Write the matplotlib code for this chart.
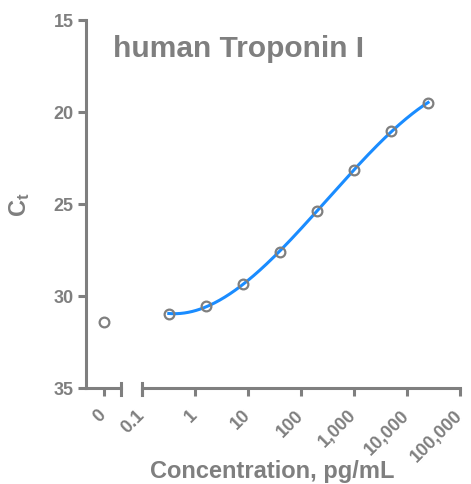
import numpy as np
import matplotlib.pyplot as plt
from matplotlib.lines import Line2D

plt.rcParams['font.family'] = ['Liberation Sans', 'DejaVu Sans']
plt.rcParams['mathtext.fontset'] = 'custom'
plt.rcParams['mathtext.rm'] = 'Liberation Sans:bold'
plt.rcParams['mathtext.bf'] = 'Liberation Sans:bold'

# data
conc = [0.32, 1.6, 8, 40, 200, 1000, 5000, 25000]
ct = [30.98, 30.54, 29.35, 27.62, 25.38, 23.15, 21.03, 19.51]
zero_ct = 31.4
xticks = [0.1, 1, 10, 100, 1000, 10000, 100000]
xticklabels = ['0.1', '1', '10', '100', '1,000', '10,000', '100,000']
yticks = [15, 20, 25, 30, 35]

gray = '#7f7f7f'
blue = '#1a8cff'
lw = 2.2

W, H = 471, 484
fig = plt.figure(figsize=(W / 100, H / 100), dpi=100)

bottom = 1 - 388 / H
height = (388 - 20) / H
ax0 = fig.add_axes([86 / W, bottom, (121 - 86) / W, height])
ax1 = fig.add_axes([142 / W, bottom, (460 - 142) / W, height])

for ax in (ax0, ax1):
    ax.set_ylim(35, 15)
    for s in ('top', 'right'):
        ax.spines[s].set_visible(False)
    for s in ('left', 'bottom'):
        ax.spines[s].set_color(gray)
        ax.spines[s].set_linewidth(lw)
    ax.tick_params(colors=gray, width=lw, length=6, labelsize=13, pad=3)
    ax.tick_params(axis='x', pad=12)
    ax.patch.set_alpha(0)

ax1.spines['left'].set_visible(False)
ax1.tick_params(axis='y', left=False, labelleft=False)

ax0.set_yticks(yticks)
for lab in ax0.get_yticklabels():
    lab.set_fontweight('bold')

# zero segment
ax0.set_xlim(-1, 1)
ax0.set_xticks([0])
ax0.set_xticklabels(['0'], rotation=45, ha='right', va='center',
                    rotation_mode='anchor', fontweight='bold')
ax0.plot([0], [zero_ct], 'o', ms=7, mfc='none', mec=gray, mew=1.6, clip_on=False)

# log segment
ax1.set_xscale('log')
ax1.set_xlim(0.1, 100000)
ax1.set_xticks(xticks)
ax1.set_xticklabels(xticklabels, rotation=45, ha='right', va='center',
                    rotation_mode='anchor', fontweight='bold')
ax1.minorticks_off()

# smooth fit through the points in log space
lx = np.log10(conc)
coef = np.polyfit(lx, ct, 3)
xs = np.linspace(lx[0], lx[-1], 200)
ax1.plot(10 ** xs, np.polyval(coef, xs), color=blue, lw=lw, zorder=2)
ax1.plot(conc, ct, 'o', ms=7, mfc='none', mec=gray, mew=1.6, zorder=3, clip_on=False)

# axis break marks
for x in (121, 142):
    fig.add_artist(Line2D([x / W, x / W], [1 - 383 / H, 1 - 395 / H],
                          color=gray, lw=lw, transform=fig.transFigure))

fig.text(113 / W, 1 - 57 / H, 'human Troponin I', color=gray, fontsize=21.5,
         fontweight='bold', ha='left', va='baseline')
fig.text(20 / W, 1 - 205 / H, r'$\mathregular{C_t}$', color=gray, fontsize=17,
         fontweight='bold', rotation=90, ha='center', va='center')
fig.text(272 / W, 1 - 478 / H, 'Concentration, pg/mL', color=gray, fontsize=17,
         fontweight='bold', ha='center', va='baseline')

fig.savefig('out.png', dpi=100)
